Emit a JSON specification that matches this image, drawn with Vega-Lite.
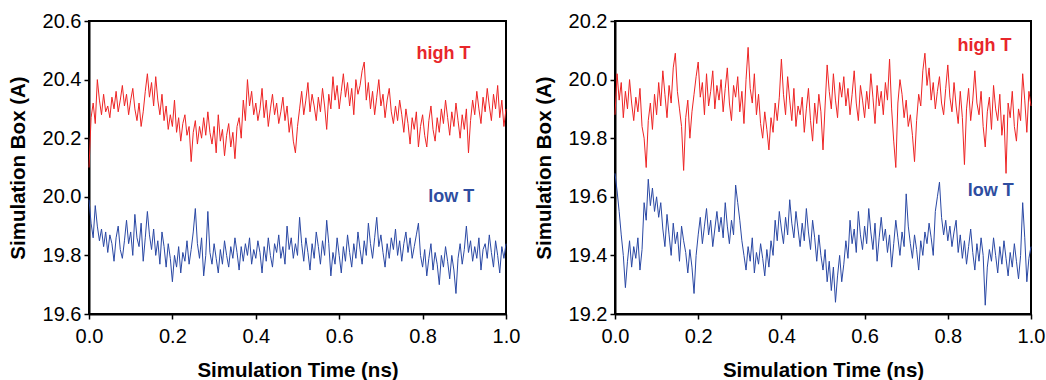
{
  "$schema": "https://vega.github.io/schema/vega-lite/v6.json",
  "padding": {"left": 7, "top": 10, "right": 5, "bottom": 5},
  "background": "white",
  "config": {
    "font": "Liberation Sans",
    "view": {"stroke": "black", "strokeWidth": 2},
    "axis": {
      "grid": false, "domainColor": "black", "domainWidth": 2, "tickColor": "black", "tickWidth": 1.5, "tickSize": 5,
      "labelFontSize": 20, "labelColor": "black", "labelFont": "Liberation Sans", "labelFlush": false, "labelOverlap": false,
      "titleFontSize": 20.5, "titleFontWeight": "bold", "titleColor": "black", "titleFont": "Liberation Sans"
    },
    "axisX": {"labelPadding": 7, "titlePadding": 14},
    "axisY": {"labelPadding": 3, "titlePadding": 14}
  },
  "datasets": {
    "d": [
{"t":0,"a":20.10,"b":19.99,"c":19.88,"d":19.68},
{"t":0.005,"a":20.27,"b":19.91,"c":20.02,"d":19.62},
{"t":0.01,"a":20.32,"b":19.86,"c":19.93,"d":19.55},
{"t":0.015,"a":20.25,"b":19.97,"c":19.99,"d":19.47},
{"t":0.02,"a":20.40,"b":19.90,"c":19.87,"d":19.40},
{"t":0.025,"a":20.33,"b":19.85,"c":19.96,"d":19.29},
{"t":0.03,"a":20.28,"b":19.89,"c":19.90,"d":19.38},
{"t":0.035,"a":20.35,"b":19.83,"c":20.00,"d":19.45},
{"t":0.04,"a":20.29,"b":19.88,"c":19.92,"d":19.36},
{"t":0.045,"a":20.31,"b":19.81,"c":19.86,"d":19.43},
{"t":0.05,"a":20.27,"b":19.87,"c":19.94,"d":19.39},
{"t":0.055,"a":20.34,"b":19.84,"c":19.89,"d":19.46},
{"t":0.06,"a":20.30,"b":19.78,"c":19.97,"d":19.35},
{"t":0.065,"a":20.36,"b":19.86,"c":19.84,"d":19.42},
{"t":0.07,"a":20.29,"b":19.90,"c":19.80,"d":19.58},
{"t":0.075,"a":20.33,"b":19.82,"c":19.70,"d":19.52},
{"t":0.08,"a":20.38,"b":19.79,"c":19.86,"d":19.66},
{"t":0.085,"a":20.31,"b":19.85,"c":19.92,"d":19.57},
{"t":0.09,"a":20.35,"b":19.92,"c":19.83,"d":19.63},
{"t":0.095,"a":20.28,"b":19.84,"c":19.95,"d":19.55},
{"t":0.1,"a":20.33,"b":19.88,"c":19.88,"d":19.60},
{"t":0.105,"a":20.37,"b":19.80,"c":19.99,"d":19.53},
{"t":0.11,"a":20.30,"b":19.94,"c":19.91,"d":19.58},
{"t":0.115,"a":20.26,"b":19.86,"c":20.03,"d":19.49},
{"t":0.12,"a":20.32,"b":19.83,"c":19.95,"d":19.43},
{"t":0.125,"a":20.24,"b":19.91,"c":19.87,"d":19.54},
{"t":0.13,"a":20.29,"b":19.78,"c":19.98,"d":19.47},
{"t":0.135,"a":20.36,"b":19.86,"c":19.92,"d":19.40},
{"t":0.14,"a":20.42,"b":19.95,"c":20.04,"d":19.51},
{"t":0.145,"a":20.34,"b":19.87,"c":20.09,"d":19.44},
{"t":0.15,"a":20.39,"b":19.82,"c":19.96,"d":19.48},
{"t":0.155,"a":20.31,"b":19.89,"c":19.90,"d":19.38},
{"t":0.16,"a":20.41,"b":19.80,"c":19.84,"d":19.50},
{"t":0.165,"a":20.33,"b":19.85,"c":19.69,"d":19.45},
{"t":0.17,"a":20.28,"b":19.77,"c":19.87,"d":19.41},
{"t":0.175,"a":20.35,"b":19.88,"c":19.93,"d":19.34},
{"t":0.18,"a":20.26,"b":19.83,"c":19.80,"d":19.42},
{"t":0.185,"a":20.31,"b":19.76,"c":19.89,"d":19.36},
{"t":0.19,"a":20.23,"b":19.84,"c":19.95,"d":19.27},
{"t":0.195,"a":20.28,"b":19.79,"c":20.01,"d":19.40},
{"t":0.2,"a":20.24,"b":19.71,"c":20.06,"d":19.47},
{"t":0.205,"a":20.33,"b":19.80,"c":19.94,"d":19.53},
{"t":0.21,"a":20.22,"b":19.76,"c":19.99,"d":19.44},
{"t":0.215,"a":20.27,"b":19.83,"c":19.88,"d":19.50},
{"t":0.22,"a":20.19,"b":19.74,"c":20.02,"d":19.56},
{"t":0.225,"a":20.25,"b":19.81,"c":19.91,"d":19.47},
{"t":0.23,"a":20.28,"b":19.78,"c":19.96,"d":19.52},
{"t":0.235,"a":20.21,"b":19.85,"c":20.03,"d":19.43},
{"t":0.24,"a":20.24,"b":19.77,"c":19.90,"d":19.49},
{"t":0.245,"a":20.12,"b":19.82,"c":19.98,"d":19.55},
{"t":0.25,"a":20.22,"b":19.88,"c":19.93,"d":19.48},
{"t":0.255,"a":20.26,"b":19.96,"c":20.00,"d":19.53},
{"t":0.26,"a":20.18,"b":19.84,"c":19.89,"d":19.46},
{"t":0.265,"a":20.24,"b":19.79,"c":19.97,"d":19.58},
{"t":0.27,"a":20.20,"b":19.86,"c":20.04,"d":19.50},
{"t":0.275,"a":20.27,"b":19.73,"c":19.92,"d":19.44},
{"t":0.28,"a":20.21,"b":19.80,"c":19.86,"d":19.52},
{"t":0.285,"a":20.29,"b":19.95,"c":19.98,"d":19.47},
{"t":0.29,"a":20.22,"b":19.81,"c":19.94,"d":19.64},
{"t":0.295,"a":20.18,"b":19.77,"c":20.01,"d":19.58},
{"t":0.3,"a":20.24,"b":19.84,"c":19.89,"d":19.52},
{"t":0.305,"a":20.15,"b":19.79,"c":19.96,"d":19.45},
{"t":0.31,"a":20.28,"b":19.74,"c":19.85,"d":19.40},
{"t":0.315,"a":20.19,"b":19.82,"c":20.00,"d":19.35},
{"t":0.32,"a":20.23,"b":19.77,"c":20.11,"d":19.43},
{"t":0.325,"a":20.14,"b":19.85,"c":19.97,"d":19.38},
{"t":0.33,"a":20.21,"b":19.80,"c":19.92,"d":19.46},
{"t":0.335,"a":20.25,"b":19.76,"c":20.02,"d":19.34},
{"t":0.34,"a":20.17,"b":19.83,"c":19.88,"d":19.41},
{"t":0.345,"a":20.22,"b":19.79,"c":19.95,"d":19.37},
{"t":0.35,"a":20.13,"b":19.86,"c":19.85,"d":19.44},
{"t":0.355,"a":20.24,"b":19.81,"c":19.80,"d":19.39},
{"t":0.36,"a":20.27,"b":19.75,"c":19.89,"d":19.33},
{"t":0.365,"a":20.20,"b":19.83,"c":19.83,"d":19.42},
{"t":0.37,"a":20.33,"b":19.78,"c":19.76,"d":19.36},
{"t":0.375,"a":20.26,"b":19.84,"c":19.87,"d":19.45},
{"t":0.38,"a":20.40,"b":19.80,"c":19.82,"d":19.40},
{"t":0.385,"a":20.31,"b":19.86,"c":19.92,"d":19.52},
{"t":0.39,"a":20.36,"b":19.77,"c":19.86,"d":19.45},
{"t":0.395,"a":20.28,"b":19.82,"c":19.94,"d":19.55},
{"t":0.4,"a":20.32,"b":19.79,"c":20.07,"d":19.49},
{"t":0.405,"a":20.26,"b":19.85,"c":19.95,"d":19.44},
{"t":0.41,"a":20.30,"b":19.81,"c":19.88,"d":19.53},
{"t":0.415,"a":20.37,"b":19.74,"c":20.01,"d":19.47},
{"t":0.42,"a":20.27,"b":19.83,"c":19.93,"d":19.59},
{"t":0.425,"a":20.33,"b":19.78,"c":19.86,"d":19.51},
{"t":0.43,"a":20.24,"b":19.86,"c":19.97,"d":19.46},
{"t":0.435,"a":20.30,"b":19.80,"c":19.84,"d":19.55},
{"t":0.44,"a":20.35,"b":19.76,"c":19.91,"d":19.49},
{"t":0.445,"a":20.28,"b":19.84,"c":19.88,"d":19.43},
{"t":0.45,"a":20.32,"b":19.81,"c":19.94,"d":19.51},
{"t":0.455,"a":20.25,"b":19.87,"c":19.82,"d":19.45},
{"t":0.46,"a":20.29,"b":19.79,"c":19.90,"d":19.56},
{"t":0.465,"a":20.34,"b":19.83,"c":19.97,"d":19.48},
{"t":0.47,"a":20.26,"b":19.77,"c":19.86,"d":19.42},
{"t":0.475,"a":20.31,"b":19.90,"c":19.79,"d":19.52},
{"t":0.48,"a":20.22,"b":19.82,"c":19.92,"d":19.46},
{"t":0.485,"a":20.27,"b":19.86,"c":19.85,"d":19.38},
{"t":0.49,"a":20.19,"b":19.79,"c":19.95,"d":19.47},
{"t":0.495,"a":20.15,"b":19.84,"c":19.89,"d":19.40},
{"t":0.5,"a":20.24,"b":19.80,"c":19.76,"d":19.35},
{"t":0.505,"a":20.30,"b":19.93,"c":19.91,"d":19.42},
{"t":0.51,"a":20.36,"b":19.84,"c":20.05,"d":19.31},
{"t":0.515,"a":20.28,"b":19.78,"c":19.96,"d":19.38},
{"t":0.52,"a":20.33,"b":19.86,"c":19.90,"d":19.28},
{"t":0.525,"a":20.39,"b":19.81,"c":20.02,"d":19.36},
{"t":0.53,"a":20.29,"b":19.75,"c":19.93,"d":19.24},
{"t":0.535,"a":20.35,"b":19.84,"c":19.87,"d":19.33},
{"t":0.54,"a":20.31,"b":19.79,"c":19.99,"d":19.40},
{"t":0.545,"a":20.26,"b":19.88,"c":19.94,"d":19.31},
{"t":0.55,"a":20.34,"b":19.83,"c":20.01,"d":19.37},
{"t":0.555,"a":20.29,"b":19.77,"c":19.91,"d":19.45},
{"t":0.56,"a":20.37,"b":19.85,"c":19.97,"d":19.39},
{"t":0.565,"a":20.31,"b":19.80,"c":19.88,"d":19.52},
{"t":0.57,"a":20.23,"b":19.92,"c":19.95,"d":19.44},
{"t":0.575,"a":20.35,"b":19.84,"c":20.03,"d":19.49},
{"t":0.58,"a":20.30,"b":19.73,"c":19.92,"d":19.41},
{"t":0.585,"a":20.41,"b":19.81,"c":19.86,"d":19.55},
{"t":0.59,"a":20.33,"b":19.77,"c":19.98,"d":19.47},
{"t":0.595,"a":20.38,"b":19.86,"c":19.93,"d":19.42},
{"t":0.6,"a":20.30,"b":19.80,"c":19.87,"d":19.50},
{"t":0.605,"a":20.36,"b":19.74,"c":19.96,"d":19.44},
{"t":0.61,"a":20.42,"b":19.83,"c":19.90,"d":19.56},
{"t":0.615,"a":20.34,"b":19.78,"c":20.02,"d":19.48},
{"t":0.62,"a":20.39,"b":19.87,"c":19.94,"d":19.42},
{"t":0.625,"a":20.31,"b":19.81,"c":19.85,"d":19.51},
{"t":0.63,"a":20.37,"b":19.76,"c":19.98,"d":19.38},
{"t":0.635,"a":20.28,"b":19.84,"c":19.91,"d":19.46},
{"t":0.64,"a":20.40,"b":19.79,"c":19.96,"d":19.53},
{"t":0.645,"a":20.35,"b":19.88,"c":19.88,"d":19.45},
{"t":0.65,"a":20.38,"b":19.82,"c":19.99,"d":19.49},
{"t":0.655,"a":20.43,"b":19.77,"c":19.93,"d":19.41},
{"t":0.66,"a":20.46,"b":19.85,"c":20.07,"d":19.47},
{"t":0.665,"a":20.33,"b":19.80,"c":19.90,"d":19.36},
{"t":0.67,"a":20.39,"b":19.91,"c":19.79,"d":19.44},
{"t":0.675,"a":20.30,"b":19.84,"c":19.70,"d":19.52},
{"t":0.68,"a":20.36,"b":19.79,"c":19.92,"d":19.46},
{"t":0.685,"a":20.28,"b":19.86,"c":20.00,"d":19.40},
{"t":0.69,"a":20.34,"b":19.93,"c":19.95,"d":19.48},
{"t":0.695,"a":20.40,"b":19.83,"c":19.87,"d":19.43},
{"t":0.7,"a":20.31,"b":19.87,"c":19.93,"d":19.61},
{"t":0.705,"a":20.35,"b":19.81,"c":19.84,"d":19.50},
{"t":0.71,"a":20.27,"b":19.76,"c":19.88,"d":19.44},
{"t":0.715,"a":20.33,"b":19.84,"c":19.81,"d":19.39},
{"t":0.72,"a":20.37,"b":19.79,"c":19.72,"d":19.47},
{"t":0.725,"a":20.29,"b":19.86,"c":19.86,"d":19.42},
{"t":0.73,"a":20.25,"b":19.82,"c":19.95,"d":19.35},
{"t":0.735,"a":20.31,"b":19.89,"c":19.91,"d":19.45},
{"t":0.74,"a":20.26,"b":19.80,"c":20.03,"d":19.40},
{"t":0.745,"a":20.33,"b":19.85,"c":20.09,"d":19.48},
{"t":0.75,"a":20.28,"b":19.78,"c":19.98,"d":19.44},
{"t":0.755,"a":20.22,"b":19.84,"c":20.04,"d":19.51},
{"t":0.76,"a":20.30,"b":19.88,"c":19.93,"d":19.46},
{"t":0.765,"a":20.25,"b":19.81,"c":19.99,"d":19.40},
{"t":0.77,"a":20.18,"b":19.86,"c":19.90,"d":19.55},
{"t":0.775,"a":20.27,"b":19.79,"c":19.96,"d":19.60},
{"t":0.78,"a":20.23,"b":19.83,"c":20.01,"d":19.65},
{"t":0.785,"a":20.29,"b":19.87,"c":19.92,"d":19.53},
{"t":0.79,"a":20.17,"b":19.91,"c":19.88,"d":19.47},
{"t":0.795,"a":20.24,"b":19.80,"c":19.97,"d":19.52},
{"t":0.8,"a":20.28,"b":19.76,"c":20.05,"d":19.45},
{"t":0.805,"a":20.21,"b":19.82,"c":19.94,"d":19.50},
{"t":0.81,"a":20.17,"b":19.73,"c":19.89,"d":19.43},
{"t":0.815,"a":20.26,"b":19.79,"c":19.99,"d":19.48},
{"t":0.82,"a":20.31,"b":19.84,"c":19.91,"d":19.52},
{"t":0.825,"a":20.23,"b":19.75,"c":19.85,"d":19.41},
{"t":0.83,"a":20.19,"b":19.81,"c":19.96,"d":19.47},
{"t":0.835,"a":20.27,"b":19.77,"c":19.87,"d":19.39},
{"t":0.84,"a":20.22,"b":19.70,"c":19.71,"d":19.45},
{"t":0.845,"a":20.30,"b":19.80,"c":19.90,"d":19.37},
{"t":0.85,"a":20.25,"b":19.76,"c":19.97,"d":19.43},
{"t":0.855,"a":20.33,"b":19.83,"c":19.86,"d":19.49},
{"t":0.86,"a":20.27,"b":19.78,"c":19.93,"d":19.41},
{"t":0.865,"a":20.21,"b":19.72,"c":20.03,"d":19.35},
{"t":0.87,"a":20.29,"b":19.80,"c":19.92,"d":19.44},
{"t":0.875,"a":20.24,"b":19.75,"c":19.88,"d":19.38},
{"t":0.88,"a":20.32,"b":19.67,"c":19.96,"d":19.46},
{"t":0.885,"a":20.26,"b":19.79,"c":19.84,"d":19.40},
{"t":0.89,"a":20.20,"b":19.84,"c":19.77,"d":19.23},
{"t":0.895,"a":20.28,"b":19.77,"c":19.89,"d":19.36},
{"t":0.9,"a":20.23,"b":19.82,"c":19.94,"d":19.42},
{"t":0.905,"a":20.30,"b":19.90,"c":19.83,"d":19.38},
{"t":0.91,"a":20.15,"b":19.81,"c":19.98,"d":19.46},
{"t":0.915,"a":20.26,"b":19.85,"c":19.90,"d":19.40},
{"t":0.92,"a":20.33,"b":19.78,"c":19.86,"d":19.34},
{"t":0.925,"a":20.28,"b":19.83,"c":19.95,"d":19.43},
{"t":0.93,"a":20.36,"b":19.79,"c":19.81,"d":19.37},
{"t":0.935,"a":20.30,"b":19.86,"c":19.88,"d":19.45},
{"t":0.94,"a":20.25,"b":19.75,"c":19.68,"d":19.39},
{"t":0.945,"a":20.34,"b":19.82,"c":19.92,"d":19.33},
{"t":0.95,"a":20.29,"b":19.84,"c":19.87,"d":19.41},
{"t":0.955,"a":20.37,"b":19.79,"c":19.96,"d":19.36},
{"t":0.96,"a":20.31,"b":19.87,"c":19.84,"d":19.44},
{"t":0.965,"a":20.26,"b":19.81,"c":19.79,"d":19.38},
{"t":0.97,"a":20.35,"b":19.76,"c":19.90,"d":19.32},
{"t":0.975,"a":20.30,"b":19.85,"c":19.86,"d":19.40},
{"t":0.98,"a":20.38,"b":19.80,"c":20.02,"d":19.58},
{"t":0.985,"a":20.27,"b":19.74,"c":19.93,"d":19.46},
{"t":0.99,"a":20.33,"b":19.83,"c":19.82,"d":19.31},
{"t":0.995,"a":20.24,"b":19.79,"c":19.96,"d":19.39},
{"t":1,"a":20.30,"b":19.84,"c":19.91,"d":19.43}
    ],
    "labels": [
      {"p": "L", "t": 0.85, "v": 20.487, "label": "high T", "s": "high"},
      {"p": "L", "t": 0.869, "v": 20.0, "label": "low T", "s": "low"},
      {"p": "R", "t": 0.888, "v": 20.115, "label": "high T", "s": "high"},
      {"p": "R", "t": 0.903, "v": 19.62, "label": "low T", "s": "low"}
    ]
  },
  "spacing": 12,
  "hconcat": [
    {
      "width": 417,
      "height": 293,
      "layer": [
        {
          "data": {"name": "d"},
          "mark": {"type": "line", "color": "#ee2424", "strokeWidth": 1},
          "encoding": {
            "x": {"field": "t", "type": "quantitative", "scale": {"domain": [0, 1]}, "axis": {"values": [0, 0.2, 0.4, 0.6, 0.8, 1.0], "format": ".1f"}, "title": "Simulation Time (ns)"},
            "y": {"field": "a", "type": "quantitative", "scale": {"domain": [19.6, 20.6], "zero": false}, "axis": {"values": [19.6, 19.8, 20.0, 20.2, 20.4, 20.6], "format": ".1f"}, "title": "Simulation Box (A)"}
          }
        },
        {
          "data": {"name": "d"},
          "mark": {"type": "line", "color": "#2a48a4", "strokeWidth": 1},
          "encoding": {
            "x": {"field": "t", "type": "quantitative", "title": "Simulation Time (ns)"},
            "y": {"field": "b", "type": "quantitative", "title": "Simulation Box (A)"}
          }
        },
        {
          "data": {"name": "labels"},
          "transform": [{"filter": "datum.p == 'L'"}],
          "mark": {"type": "text", "fontSize": 18, "fontWeight": "bold", "font": "Liberation Sans"},
          "encoding": {
            "x": {"field": "t", "type": "quantitative", "title": "Simulation Time (ns)"},
            "y": {"field": "v", "type": "quantitative", "title": "Simulation Box (A)"},
            "text": {"field": "label"},
            "color": {"field": "s", "type": "nominal", "scale": {"domain": ["high", "low"], "range": ["#e8262b", "#2e4da0"]}, "legend": null}
          }
        }
      ]
    },
    {
      "width": 416,
      "height": 293,
      "layer": [
        {
          "data": {"name": "d"},
          "mark": {"type": "line", "color": "#ee2424", "strokeWidth": 1},
          "encoding": {
            "x": {"field": "t", "type": "quantitative", "scale": {"domain": [0, 1]}, "axis": {"values": [0, 0.2, 0.4, 0.6, 0.8, 1.0], "format": ".1f"}, "title": "Simulation Time (ns)"},
            "y": {"field": "c", "type": "quantitative", "scale": {"domain": [19.2, 20.2], "zero": false}, "axis": {"values": [19.2, 19.4, 19.6, 19.8, 20.0, 20.2], "format": ".1f"}, "title": "Simulation Box (A)"}
          }
        },
        {
          "data": {"name": "d"},
          "mark": {"type": "line", "color": "#2a48a4", "strokeWidth": 1},
          "encoding": {
            "x": {"field": "t", "type": "quantitative", "title": "Simulation Time (ns)"},
            "y": {"field": "d", "type": "quantitative", "title": "Simulation Box (A)"}
          }
        },
        {
          "data": {"name": "labels"},
          "transform": [{"filter": "datum.p == 'R'"}],
          "mark": {"type": "text", "fontSize": 18, "fontWeight": "bold", "font": "Liberation Sans"},
          "encoding": {
            "x": {"field": "t", "type": "quantitative", "title": "Simulation Time (ns)"},
            "y": {"field": "v", "type": "quantitative", "title": "Simulation Box (A)"},
            "text": {"field": "label"},
            "color": {"field": "s", "type": "nominal", "scale": {"domain": ["high", "low"], "range": ["#e8262b", "#2e4da0"]}, "legend": null}
          }
        }
      ]
    }
  ]
}
